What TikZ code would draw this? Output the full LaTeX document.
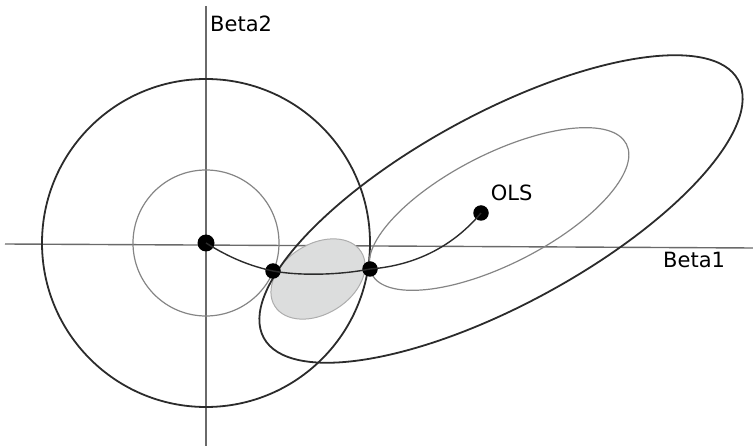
\documentclass[tikz,border=0pt]{standalone}
\usepackage{fontspec}
\setmainfont{DejaVu Sans}
\usetikzlibrary{positioning}
\definecolor{axisgray}{HTML}{6A6A6A}
\definecolor{outerdark}{HTML}{2B2B2B}
\definecolor{innergray}{HTML}{858585}
\definecolor{regionfill}{HTML}{DCDDDD}
\definecolor{regionedge}{HTML}{ADADAD}
\tikzset{
  axis/.style={draw=axisgray,line width=1.4pt},
  bigcontour/.style={draw=outerdark,line width=1.8pt},
  smallcontour/.style={draw=innergray,line width=1.2pt},
  estdot/.style={circle,fill=black,inner sep=0pt,minimum size=15.5pt},
  pathline/.style={draw=outerdark,line width=1.4pt},
  axislabel/.style={font=\fontsize{21}{24}\selectfont,inner sep=0pt}
}
\begin{document}
\begin{tikzpicture}[x=1pt,y=-1pt]
  \useasboundingbox (0,0) rectangle (753,446);
  % axes
  \coordinate (xleft) at (5,244);
  \coordinate (xright) at (753,248);
  \coordinate (ytop) at (206,6);
  \coordinate (ybottom) at (206,446);
  \draw[axis] (xleft) -- (xright);
  \draw[axis] (ytop) -- (ybottom);
  % constraint circles
  \draw[smallcontour] (206,243) circle [radius=73];
  \draw[bigcontour] (206,243) circle [radius=164];
  % shaded region
  \fill[regionfill,draw=regionedge,line width=1pt,rotate around={32:(318,279)}] (318,279) ellipse [x radius=51,y radius=35];
  % RSS contours
  \draw[smallcontour,rotate around={27:(499,209)}] (499,209) ellipse [x radius=143,y radius=55];
  \draw[bigcontour,rotate around={28.5:(501,209)}] (501,209) ellipse [x radius=270,y radius=95.5];
  % estimates
  \node[estdot,minimum size=17pt] (origin) at (206,243) {};
  \node[estdot] (small) at (273,271) {};
  \node[estdot] (large) at (370,269) {};
  \node[estdot] (ols) at (481,213) {};
  \draw[pathline] (origin.center) .. controls (230,258) and (250,266) .. (small.center);
  \draw[pathline] (small.center) .. controls (300,276) and (340,275) .. (large.center);
  \draw[pathline] (large.center) .. controls (410,266) and (450,250) .. (ols.center);
  % labels
  \node[axislabel,anchor=base west] (beta2) at (210,32) {Beta2};
  \node[axislabel,anchor=base west] (beta1) at (663,268) {Beta1};
  \node[axislabel,above right=6pt and 4pt of ols] (olslabel) {OLS};
\end{tikzpicture}
\end{document}
